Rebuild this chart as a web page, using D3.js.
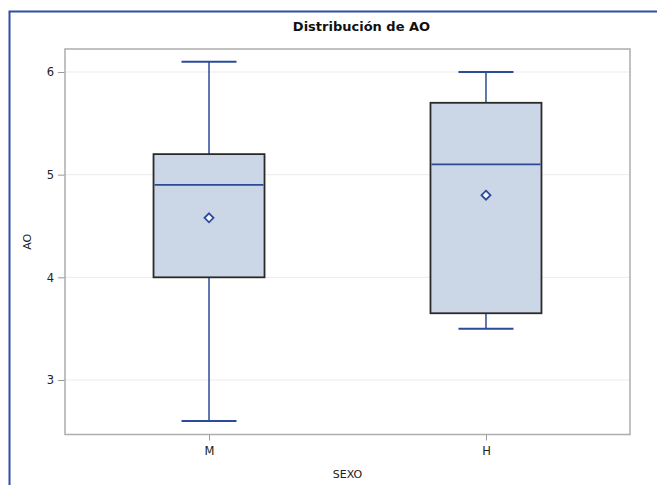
<!DOCTYPE html>
<html><head><meta charset="utf-8">
<script src="https://cdn.jsdelivr.net/npm/d3@7"></script>
<style>body{margin:0;background:#fff}svg{display:block}text{font-family:"DejaVu Sans",Verdana,sans-serif}</style>
</head><body><svg id="c" width="657" height="485"></svg>
<script>
const categories = ["M", "H"];
const minVals = [2.6, 3.5];
const q1Vals = [4.0, 3.65];
const medianVals = [4.9, 5.1];
const q3Vals = [5.2, 5.7];
const maxVals = [6.1, 6.0];
const meanVals = [4.58, 4.8];
const yTicks = [3, 4, 5, 6];
const title = "Distribución de AO";
const xLabel = "SEXO";
const yLabel = "AO";

const svg = d3.select("#c");
const L = 65, R = 630, T = 49, B = 434.5;
const x = d3.scalePoint().domain(categories).range([L, R]).padding(0.52);
const y = d3.scaleLinear().domain([2.469, 6.224]).range([B, T]);

// outer blue border (left and top)
svg.append("path").attr("d", `M9.5,485 V11.5 H657`).attr("fill","none").attr("stroke","#2f4fa8").attr("stroke-width",2);

// gridlines
svg.append("g").selectAll("line").data(yTicks).join("line")
  .attr("x1", L).attr("x2", R).attr("y1", d=>y(d)).attr("y2", d=>y(d))
  .attr("stroke","#ebebeb").attr("stroke-width",1);

// axes
const yAxis = d3.axisLeft(y).tickValues(yTicks).tickSize(7).tickPadding(4).tickFormat(d3.format("d"));
const gy = svg.append("g").attr("transform",`translate(${L},0)`).call(yAxis);
const xAxis = d3.axisBottom(x).tickSize(6).tickPadding(6);
const gx = svg.append("g").attr("transform",`translate(0,${B})`).call(xAxis);
[gx, gy].forEach(g=>{
  g.select(".domain").remove();
  g.selectAll(".tick line").attr("stroke","#999");
  g.selectAll(".tick text").attr("fill","#222").style("font-size","11.5px").style("font-family","'DejaVu Sans',Verdana,sans-serif");
});

// frame
svg.append("rect").attr("x",L).attr("y",T).attr("width",R-L).attr("height",B-T)
  .attr("fill","none").attr("stroke","#adadad").attr("stroke-width",1.5);

const boxW = 111, capW = 55;
const blue = "#2b4a9a";
const data = categories.map((c,i)=>({c, min:minVals[i], q1:q1Vals[i], med:medianVals[i], q3:q3Vals[i], max:maxVals[i], mean:meanVals[i]}));
const g = svg.append("g").selectAll("g").data(data).join("g");
// whiskers
g.append("line").attr("x1",d=>x(d.c)).attr("x2",d=>x(d.c)).attr("y1",d=>y(d.max)).attr("y2",d=>y(d.q3)).attr("stroke",blue).attr("stroke-width",1.5);
g.append("line").attr("x1",d=>x(d.c)).attr("x2",d=>x(d.c)).attr("y1",d=>y(d.min)).attr("y2",d=>y(d.q1)).attr("stroke",blue).attr("stroke-width",1.5);
g.append("line").attr("x1",d=>x(d.c)-capW/2).attr("x2",d=>x(d.c)+capW/2).attr("y1",d=>y(d.max)).attr("y2",d=>y(d.max)).attr("stroke",blue).attr("stroke-width",2);
g.append("line").attr("x1",d=>x(d.c)-capW/2).attr("x2",d=>x(d.c)+capW/2).attr("y1",d=>y(d.min)).attr("y2",d=>y(d.min)).attr("stroke",blue).attr("stroke-width",2);
// box
g.append("rect").attr("x",d=>x(d.c)-boxW/2).attr("width",boxW).attr("y",d=>y(d.q3)).attr("height",d=>y(d.q1)-y(d.q3))
  .attr("fill","#cbd7e7").attr("stroke","#2a2a2a").attr("stroke-width",1.8);
// median
g.append("line").attr("x1",d=>x(d.c)-boxW/2+1).attr("x2",d=>x(d.c)+boxW/2-1).attr("y1",d=>y(d.med)).attr("y2",d=>y(d.med)).attr("stroke",blue).attr("stroke-width",1.8);
// mean diamond
g.append("path").attr("d",d=>{const cx=x(d.c), cy=y(d.mean), r=4.5; return `M${cx},${cy-r}L${cx+r},${cy}L${cx},${cy+r}L${cx-r},${cy}Z`;})
  .attr("fill","#f4f6fa").attr("stroke",blue).attr("stroke-width",1.8);

// labels
svg.append("text").attr("x",361.5).attr("y",31).attr("text-anchor","middle").style("font-size","13px").style("font-weight","bold").attr("fill","#111").text(title);
svg.append("text").attr("x",(L+R)/2).attr("y",478).attr("text-anchor","middle").style("font-size","11px").attr("fill","#222").text(xLabel);
svg.append("text").attr("transform",`translate(31,${(T+B)/2}) rotate(-90)`).attr("text-anchor","middle").style("font-size","11px").attr("fill","#222").text(yLabel);
</script></body></html>
